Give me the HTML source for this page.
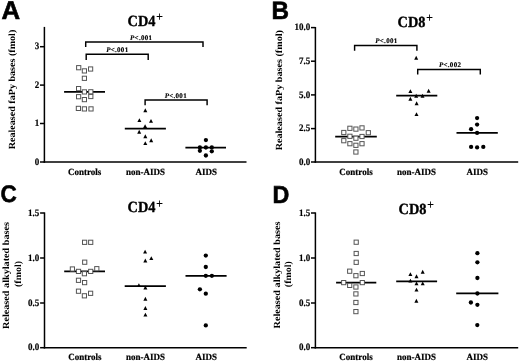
<!DOCTYPE html>
<html><head><meta charset="utf-8"><style>
html,body{margin:0;padding:0;background:#fff;}
body{width:520px;height:363px;overflow:hidden;font-family:"Liberation Serif",serif;}
svg{display:block;filter:grayscale(1);} text{text-rendering:geometricPrecision;}
</style></head><body>
<svg width="520" height="363" viewBox="0 0 520 363">
<rect width="520" height="363" fill="#fff"/>
<text x="0" y="0" font-family='"Liberation Sans", sans-serif' font-size="25" font-weight="bold" stroke="#000" stroke-width="0.6" stroke-linejoin="miter" transform="translate(1.6 18.6) scale(1.03 1.03)">A</text>
<text x="127.60000000000001" y="25.6" font-family='"Liberation Serif", serif' font-size="15" font-weight="bold" stroke="#000" stroke-width="0.35" transform="translate(127.60000000000001 25.6) scale(0.955 1.03) translate(-127.60000000000001 -25.6)">CD4<tspan font-size="13" dx="0.6" dy="-4.3" stroke-width="0">+</tspan></text>
<line x1="44.4" y1="26.9" x2="44.4" y2="162.75" stroke="#000" stroke-width="1.5"/>
<line x1="43.65" y1="162" x2="246.5" y2="162" stroke="#000" stroke-width="1.5"/>
<line x1="40.0" y1="46.7" x2="44.4" y2="46.7" stroke="#000" stroke-width="1.5"/>
<text x="0" y="0" font-family='"Liberation Serif", serif' font-size="9" font-weight="bold" text-anchor="end" stroke="#000" stroke-width="0.15" transform="translate(39.20 49.40) scale(1 1.1)">3</text>
<line x1="40.0" y1="85.1" x2="44.4" y2="85.1" stroke="#000" stroke-width="1.5"/>
<text x="0" y="0" font-family='"Liberation Serif", serif' font-size="9" font-weight="bold" text-anchor="end" stroke="#000" stroke-width="0.15" transform="translate(39.20 87.80) scale(1 1.1)">2</text>
<line x1="40.0" y1="123.5" x2="44.4" y2="123.5" stroke="#000" stroke-width="1.5"/>
<text x="0" y="0" font-family='"Liberation Serif", serif' font-size="9" font-weight="bold" text-anchor="end" stroke="#000" stroke-width="0.15" transform="translate(39.20 126.20) scale(1 1.1)">1</text>
<line x1="40.0" y1="162.0" x2="44.4" y2="162.0" stroke="#000" stroke-width="1.5"/>
<text x="0" y="0" font-family='"Liberation Serif", serif' font-size="9" font-weight="bold" text-anchor="end" stroke="#000" stroke-width="0.15" transform="translate(39.20 164.70) scale(1 1.1)">0</text>
<text x="0" y="0" font-family='"Liberation Serif", serif' font-size="9.4" font-weight="bold" text-anchor="middle" transform="translate(14.8 89.5) rotate(-90) scale(1.075 1)">Realeased faPy bases (fmol)</text>
<text x="0" y="0" font-family='"Liberation Serif", serif' font-size="9" font-weight="bold" text-anchor="middle" stroke="#000" stroke-width="0.2" transform="translate(84.6 174.5) scale(1.0 1.06)">Controls</text>
<text x="0" y="0" font-family='"Liberation Serif", serif' font-size="9" font-weight="bold" text-anchor="middle" stroke="#000" stroke-width="0.2" transform="translate(145.4 174.5) scale(1.0 1.06)">non-AIDS</text>
<text x="0" y="0" font-family='"Liberation Serif", serif' font-size="9" font-weight="bold" text-anchor="middle" stroke="#000" stroke-width="0.2" transform="translate(206.2 174.5) scale(1.0 1.06)">AIDS</text>
<path d="M85.7 47.00V41.95H203V47.00" fill="none" stroke="#000" stroke-width="1.45"/>
<text x="141.2" y="39.5" font-family='"Liberation Serif", serif' font-size="7" font-weight="bold" text-anchor="middle" letter-spacing="0.3" stroke="#000" stroke-width="0.15"><tspan font-style="italic">P</tspan>&lt;.001</text>
<path d="M86.2 59.90V54.25H148.2V59.90" fill="none" stroke="#000" stroke-width="1.45"/>
<text x="117.3" y="51.8" font-family='"Liberation Serif", serif' font-size="7" font-weight="bold" text-anchor="middle" letter-spacing="0.3" stroke="#000" stroke-width="0.15"><tspan font-style="italic">P</tspan>&lt;.001</text>
<path d="M145.1 105.30V99.95H207.1V105.30" fill="none" stroke="#000" stroke-width="1.45"/>
<text x="175.8" y="97.6" font-family='"Liberation Serif", serif' font-size="7" font-weight="bold" text-anchor="middle" letter-spacing="0.3" stroke="#000" stroke-width="0.15"><tspan font-style="italic">P</tspan>&lt;.001</text>
<line x1="64.1" y1="91.8" x2="105" y2="91.8" stroke="#000" stroke-width="1.7"/>
<rect x="76.60" y="65.60" width="4.2" height="4.2" fill="#fff" stroke="#555" stroke-width="1"/>
<rect x="82.30" y="68.80" width="4.2" height="4.2" fill="#fff" stroke="#555" stroke-width="1"/>
<rect x="88.50" y="66.90" width="4.2" height="4.2" fill="#fff" stroke="#555" stroke-width="1"/>
<rect x="82.30" y="76.20" width="4.2" height="4.2" fill="#fff" stroke="#555" stroke-width="1"/>
<rect x="76.50" y="86.50" width="4.2" height="4.2" fill="#fff" stroke="#555" stroke-width="1"/>
<rect x="82.30" y="89.80" width="4.2" height="4.2" fill="#fff" stroke="#555" stroke-width="1"/>
<rect x="88.70" y="89.70" width="4.2" height="4.2" fill="#fff" stroke="#555" stroke-width="1"/>
<rect x="76.50" y="94.60" width="4.2" height="4.2" fill="#fff" stroke="#555" stroke-width="1"/>
<rect x="88.70" y="94.40" width="4.2" height="4.2" fill="#fff" stroke="#555" stroke-width="1"/>
<rect x="82.30" y="97.50" width="4.2" height="4.2" fill="#fff" stroke="#555" stroke-width="1"/>
<rect x="76.30" y="106.30" width="4.2" height="4.2" fill="#fff" stroke="#555" stroke-width="1"/>
<rect x="82.30" y="106.80" width="4.2" height="4.2" fill="#fff" stroke="#555" stroke-width="1"/>
<rect x="88.90" y="106.80" width="4.2" height="4.2" fill="#fff" stroke="#555" stroke-width="1"/>
<line x1="124.8" y1="128.6" x2="165.9" y2="128.6" stroke="#000" stroke-width="1.7"/>
<path d="M145.30 108.36L147.30 112.25L143.30 112.25Z" fill="#000"/>
<path d="M139.40 118.16L141.40 122.05L137.40 122.05Z" fill="#000"/>
<path d="M151.00 118.95L153.00 122.85L149.00 122.85Z" fill="#000"/>
<path d="M145.10 124.16L147.10 128.05L143.10 128.05Z" fill="#000"/>
<path d="M139.20 129.75L141.20 133.65L137.20 133.65Z" fill="#000"/>
<path d="M145.30 134.35L147.30 138.25L143.30 138.25Z" fill="#000"/>
<path d="M151.20 138.25L153.20 142.15L149.20 142.15Z" fill="#000"/>
<path d="M145.30 141.16L147.30 145.05L143.30 145.05Z" fill="#000"/>
<line x1="185.4" y1="147.7" x2="226" y2="147.7" stroke="#000" stroke-width="1.7"/>
<circle cx="205.90" cy="140.10" r="2.15" fill="#000"/>
<circle cx="199.90" cy="147.50" r="2.15" fill="#000"/>
<circle cx="205.90" cy="147.50" r="2.15" fill="#000"/>
<circle cx="211.80" cy="147.40" r="2.15" fill="#000"/>
<circle cx="199.90" cy="150.80" r="2.15" fill="#000"/>
<circle cx="211.80" cy="151.30" r="2.15" fill="#000"/>
<circle cx="205.90" cy="155.50" r="2.15" fill="#000"/>
<text x="0" y="0" font-family='"Liberation Sans", sans-serif' font-size="25" font-weight="bold" stroke="#000" stroke-width="0.6" stroke-linejoin="miter" transform="translate(271.6 18.9) scale(0.97 1.0)">B</text>
<text x="397.6" y="26.7" font-family='"Liberation Serif", serif' font-size="15" font-weight="bold" stroke="#000" stroke-width="0.35" transform="translate(397.6 26.7) scale(0.955 1.03) translate(-397.6 -26.7)">CD8<tspan font-size="13" dx="0.6" dy="-4.3" stroke-width="0">+</tspan></text>
<line x1="315.4" y1="27.0" x2="315.4" y2="162.75" stroke="#000" stroke-width="1.5"/>
<line x1="314.65" y1="162" x2="518.2" y2="162" stroke="#000" stroke-width="1.5"/>
<line x1="311.0" y1="27.6" x2="315.4" y2="27.6" stroke="#000" stroke-width="1.5"/>
<text x="0" y="0" font-family='"Liberation Serif", serif' font-size="9" font-weight="bold" text-anchor="end" stroke="#000" stroke-width="0.15" transform="translate(310.20 30.30) scale(1 1.1)">10.0</text>
<line x1="311.0" y1="61.2" x2="315.4" y2="61.2" stroke="#000" stroke-width="1.5"/>
<text x="0" y="0" font-family='"Liberation Serif", serif' font-size="9" font-weight="bold" text-anchor="end" stroke="#000" stroke-width="0.15" transform="translate(310.20 63.90) scale(1 1.1)">7.5</text>
<line x1="311.0" y1="94.9" x2="315.4" y2="94.9" stroke="#000" stroke-width="1.5"/>
<text x="0" y="0" font-family='"Liberation Serif", serif' font-size="9" font-weight="bold" text-anchor="end" stroke="#000" stroke-width="0.15" transform="translate(310.20 97.60) scale(1 1.1)">5.0</text>
<line x1="311.0" y1="128.6" x2="315.4" y2="128.6" stroke="#000" stroke-width="1.5"/>
<text x="0" y="0" font-family='"Liberation Serif", serif' font-size="9" font-weight="bold" text-anchor="end" stroke="#000" stroke-width="0.15" transform="translate(310.20 131.30) scale(1 1.1)">2.5</text>
<line x1="311.0" y1="162.0" x2="315.4" y2="162.0" stroke="#000" stroke-width="1.5"/>
<text x="0" y="0" font-family='"Liberation Serif", serif' font-size="9" font-weight="bold" text-anchor="end" stroke="#000" stroke-width="0.15" transform="translate(310.20 164.70) scale(1 1.1)">0.0</text>
<text x="0" y="0" font-family='"Liberation Serif", serif' font-size="9.4" font-weight="bold" text-anchor="middle" transform="translate(282.0 90.2) rotate(-90) scale(1.082 1)">Realeased faPy bases (fmol)</text>
<text x="0" y="0" font-family='"Liberation Serif", serif' font-size="9" font-weight="bold" text-anchor="middle" stroke="#000" stroke-width="0.2" transform="translate(356.0 174.5) scale(1.0 1.06)">Controls</text>
<text x="0" y="0" font-family='"Liberation Serif", serif' font-size="9" font-weight="bold" text-anchor="middle" stroke="#000" stroke-width="0.2" transform="translate(416.5 174.5) scale(1.0 1.06)">non-AIDS</text>
<text x="0" y="0" font-family='"Liberation Serif", serif' font-size="9" font-weight="bold" text-anchor="middle" stroke="#000" stroke-width="0.2" transform="translate(477.2 174.5) scale(1.0 1.06)">AIDS</text>
<path d="M354.6 50.70V45.55H416.9V50.70" fill="none" stroke="#000" stroke-width="1.45"/>
<text x="386.4" y="43.1" font-family='"Liberation Serif", serif' font-size="7" font-weight="bold" text-anchor="middle" letter-spacing="0.3" stroke="#000" stroke-width="0.15"><tspan font-style="italic">P</tspan>&lt;.001</text>
<path d="M417.7 74.60V69.55H480.3V74.60" fill="none" stroke="#000" stroke-width="1.45"/>
<text x="450.1" y="67.0" font-family='"Liberation Serif", serif' font-size="7" font-weight="bold" text-anchor="middle" letter-spacing="0.3" stroke="#000" stroke-width="0.15"><tspan font-style="italic">P</tspan>&lt;.002</text>
<line x1="335.2" y1="136.7" x2="376.8" y2="136.7" stroke="#000" stroke-width="1.7"/>
<rect x="347.80" y="126.20" width="4.2" height="4.2" fill="#fff" stroke="#555" stroke-width="1"/>
<rect x="353.80" y="127.00" width="4.2" height="4.2" fill="#fff" stroke="#555" stroke-width="1"/>
<rect x="359.90" y="125.80" width="4.2" height="4.2" fill="#fff" stroke="#555" stroke-width="1"/>
<rect x="341.70" y="130.40" width="4.2" height="4.2" fill="#fff" stroke="#555" stroke-width="1"/>
<rect x="366.20" y="130.60" width="4.2" height="4.2" fill="#fff" stroke="#555" stroke-width="1"/>
<rect x="347.80" y="134.20" width="4.2" height="4.2" fill="#fff" stroke="#555" stroke-width="1"/>
<rect x="353.80" y="136.10" width="4.2" height="4.2" fill="#fff" stroke="#555" stroke-width="1"/>
<rect x="359.90" y="134.40" width="4.2" height="4.2" fill="#fff" stroke="#555" stroke-width="1"/>
<rect x="341.70" y="138.60" width="4.2" height="4.2" fill="#fff" stroke="#555" stroke-width="1"/>
<rect x="347.80" y="141.60" width="4.2" height="4.2" fill="#fff" stroke="#555" stroke-width="1"/>
<rect x="353.80" y="143.20" width="4.2" height="4.2" fill="#fff" stroke="#555" stroke-width="1"/>
<rect x="359.90" y="141.60" width="4.2" height="4.2" fill="#fff" stroke="#555" stroke-width="1"/>
<rect x="353.80" y="149.90" width="4.2" height="4.2" fill="#fff" stroke="#555" stroke-width="1"/>
<line x1="396.2" y1="95.6" x2="437.3" y2="95.6" stroke="#000" stroke-width="1.7"/>
<path d="M416.20 55.76L418.20 59.65L414.20 59.65Z" fill="#000"/>
<path d="M410.40 89.16L412.40 93.05L408.40 93.05Z" fill="#000"/>
<path d="M428.60 88.86L430.60 92.75L426.60 92.75Z" fill="#000"/>
<path d="M416.20 93.75L418.20 97.65L414.20 97.65Z" fill="#000"/>
<path d="M422.50 93.75L424.50 97.65L420.50 97.65Z" fill="#000"/>
<path d="M410.40 96.75L412.40 100.65L408.40 100.65Z" fill="#000"/>
<path d="M416.60 101.25L418.60 105.15L414.60 105.15Z" fill="#000"/>
<path d="M416.50 112.16L418.50 116.05L414.50 116.05Z" fill="#000"/>
<line x1="456.5" y1="132.9" x2="497.8" y2="132.9" stroke="#000" stroke-width="1.7"/>
<circle cx="477.10" cy="118.10" r="2.15" fill="#000"/>
<circle cx="477.10" cy="124.60" r="2.15" fill="#000"/>
<circle cx="471.10" cy="129.20" r="2.15" fill="#000"/>
<circle cx="477.10" cy="132.90" r="2.15" fill="#000"/>
<circle cx="471.10" cy="146.90" r="2.15" fill="#000"/>
<circle cx="477.10" cy="147.40" r="2.15" fill="#000"/>
<circle cx="483.30" cy="146.90" r="2.15" fill="#000"/>
<text x="0" y="0" font-family='"Liberation Sans", sans-serif' font-size="25" font-weight="bold" stroke="#000" stroke-width="0.6" stroke-linejoin="miter" transform="translate(0.5 202.2) scale(0.9 0.96)">C</text>
<text x="127.60000000000001" y="212.2" font-family='"Liberation Serif", serif' font-size="15" font-weight="bold" stroke="#000" stroke-width="0.35" transform="translate(127.60000000000001 212.2) scale(0.955 1.03) translate(-127.60000000000001 -212.2)">CD4<tspan font-size="13" dx="0.6" dy="-4.3" stroke-width="0">+</tspan></text>
<line x1="44.5" y1="212.4" x2="44.5" y2="348.45" stroke="#000" stroke-width="1.5"/>
<line x1="43.75" y1="347.7" x2="246.7" y2="347.7" stroke="#000" stroke-width="1.5"/>
<line x1="40.1" y1="213.0" x2="44.5" y2="213.0" stroke="#000" stroke-width="1.5"/>
<text x="0" y="0" font-family='"Liberation Serif", serif' font-size="9" font-weight="bold" text-anchor="end" stroke="#000" stroke-width="0.15" transform="translate(39.30 215.70) scale(1 1.1)">1.5</text>
<line x1="40.1" y1="258.0" x2="44.5" y2="258.0" stroke="#000" stroke-width="1.5"/>
<text x="0" y="0" font-family='"Liberation Serif", serif' font-size="9" font-weight="bold" text-anchor="end" stroke="#000" stroke-width="0.15" transform="translate(39.30 260.70) scale(1 1.1)">1.0</text>
<line x1="40.1" y1="303.0" x2="44.5" y2="303.0" stroke="#000" stroke-width="1.5"/>
<text x="0" y="0" font-family='"Liberation Serif", serif' font-size="9" font-weight="bold" text-anchor="end" stroke="#000" stroke-width="0.15" transform="translate(39.30 305.70) scale(1 1.1)">0.5</text>
<line x1="40.1" y1="347.7" x2="44.5" y2="347.7" stroke="#000" stroke-width="1.5"/>
<text x="0" y="0" font-family='"Liberation Serif", serif' font-size="9" font-weight="bold" text-anchor="end" stroke="#000" stroke-width="0.15" transform="translate(39.30 350.40) scale(1 1.1)">0.0</text>
<text x="0" y="0" font-family='"Liberation Serif", serif' font-size="9.4" font-weight="bold" text-anchor="middle" transform="translate(9.0 275.5) rotate(-90) scale(1.086 1)">Released alkylated bases</text>
<text x="0" y="0" font-family='"Liberation Serif", serif' font-size="9.4" font-weight="bold" text-anchor="middle" transform="translate(21.0 274.0) rotate(-90) scale(1.06 1)">(fmol)</text>
<text x="0" y="0" font-family='"Liberation Serif", serif' font-size="9" font-weight="bold" text-anchor="middle" stroke="#000" stroke-width="0.2" transform="translate(84.8 360.3) scale(1.0 1.06)">Controls</text>
<text x="0" y="0" font-family='"Liberation Serif", serif' font-size="9" font-weight="bold" text-anchor="middle" stroke="#000" stroke-width="0.2" transform="translate(145.4 360.3) scale(1.0 1.06)">non-AIDS</text>
<text x="0" y="0" font-family='"Liberation Serif", serif' font-size="9" font-weight="bold" text-anchor="middle" stroke="#000" stroke-width="0.2" transform="translate(206.2 360.3) scale(1.0 1.06)">AIDS</text>
<line x1="64.2" y1="271.4" x2="105" y2="271.4" stroke="#000" stroke-width="1.7"/>
<rect x="82.50" y="240.20" width="4.2" height="4.2" fill="#fff" stroke="#555" stroke-width="1"/>
<rect x="88.60" y="240.20" width="4.2" height="4.2" fill="#fff" stroke="#555" stroke-width="1"/>
<rect x="82.60" y="260.10" width="4.2" height="4.2" fill="#fff" stroke="#555" stroke-width="1"/>
<rect x="70.30" y="266.90" width="4.2" height="4.2" fill="#fff" stroke="#555" stroke-width="1"/>
<rect x="76.40" y="269.30" width="4.2" height="4.2" fill="#fff" stroke="#555" stroke-width="1"/>
<rect x="82.30" y="271.60" width="4.2" height="4.2" fill="#fff" stroke="#555" stroke-width="1"/>
<rect x="88.60" y="269.30" width="4.2" height="4.2" fill="#fff" stroke="#555" stroke-width="1"/>
<rect x="94.70" y="266.60" width="4.2" height="4.2" fill="#fff" stroke="#555" stroke-width="1"/>
<rect x="76.40" y="278.20" width="4.2" height="4.2" fill="#fff" stroke="#555" stroke-width="1"/>
<rect x="82.50" y="280.50" width="4.2" height="4.2" fill="#fff" stroke="#555" stroke-width="1"/>
<rect x="76.40" y="289.10" width="4.2" height="4.2" fill="#fff" stroke="#555" stroke-width="1"/>
<rect x="82.30" y="293.70" width="4.2" height="4.2" fill="#fff" stroke="#555" stroke-width="1"/>
<rect x="88.50" y="291.20" width="4.2" height="4.2" fill="#fff" stroke="#555" stroke-width="1"/>
<line x1="124.7" y1="286.2" x2="165.9" y2="286.2" stroke="#000" stroke-width="1.7"/>
<path d="M145.10 249.66L147.10 253.55L143.10 253.55Z" fill="#000"/>
<path d="M151.30 256.15L153.30 260.05L149.30 260.05Z" fill="#000"/>
<path d="M145.30 258.55L147.30 262.45L143.30 262.45Z" fill="#000"/>
<path d="M138.90 283.15L140.90 287.05L136.90 287.05Z" fill="#000"/>
<path d="M145.40 285.55L147.40 289.45L143.40 289.45Z" fill="#000"/>
<path d="M145.40 296.75L147.40 300.65L143.40 300.65Z" fill="#000"/>
<path d="M145.40 306.05L147.40 309.95L143.40 309.95Z" fill="#000"/>
<path d="M145.40 312.65L147.40 316.55L143.40 316.55Z" fill="#000"/>
<line x1="185.5" y1="275.8" x2="226.6" y2="275.8" stroke="#000" stroke-width="1.7"/>
<circle cx="205.80" cy="255.60" r="2.15" fill="#000"/>
<circle cx="205.80" cy="267.00" r="2.15" fill="#000"/>
<circle cx="205.80" cy="275.80" r="2.15" fill="#000"/>
<circle cx="211.90" cy="275.80" r="2.15" fill="#000"/>
<circle cx="199.90" cy="289.30" r="2.15" fill="#000"/>
<circle cx="205.80" cy="293.70" r="2.15" fill="#000"/>
<circle cx="205.80" cy="325.40" r="2.15" fill="#000"/>
<text x="0" y="0" font-family='"Liberation Sans", sans-serif' font-size="25" font-weight="bold" stroke="#000" stroke-width="0.6" stroke-linejoin="miter" transform="translate(272.4 203.1) scale(0.93 0.98)">D</text>
<text x="398.6" y="213.8" font-family='"Liberation Serif", serif' font-size="15" font-weight="bold" stroke="#000" stroke-width="0.35" transform="translate(398.6 213.8) scale(0.955 1.03) translate(-398.6 -213.8)">CD8<tspan font-size="13" dx="0.6" dy="-4.3" stroke-width="0">+</tspan></text>
<line x1="315.4" y1="212.4" x2="315.4" y2="348.45" stroke="#000" stroke-width="1.5"/>
<line x1="314.65" y1="347.7" x2="518.2" y2="347.7" stroke="#000" stroke-width="1.5"/>
<line x1="311.0" y1="213.0" x2="315.4" y2="213.0" stroke="#000" stroke-width="1.5"/>
<text x="0" y="0" font-family='"Liberation Serif", serif' font-size="9" font-weight="bold" text-anchor="end" stroke="#000" stroke-width="0.15" transform="translate(310.20 215.70) scale(1 1.1)">1.5</text>
<line x1="311.0" y1="258.0" x2="315.4" y2="258.0" stroke="#000" stroke-width="1.5"/>
<text x="0" y="0" font-family='"Liberation Serif", serif' font-size="9" font-weight="bold" text-anchor="end" stroke="#000" stroke-width="0.15" transform="translate(310.20 260.70) scale(1 1.1)">1.0</text>
<line x1="311.0" y1="303.0" x2="315.4" y2="303.0" stroke="#000" stroke-width="1.5"/>
<text x="0" y="0" font-family='"Liberation Serif", serif' font-size="9" font-weight="bold" text-anchor="end" stroke="#000" stroke-width="0.15" transform="translate(310.20 305.70) scale(1 1.1)">0.5</text>
<line x1="311.0" y1="347.7" x2="315.4" y2="347.7" stroke="#000" stroke-width="1.5"/>
<text x="0" y="0" font-family='"Liberation Serif", serif' font-size="9" font-weight="bold" text-anchor="end" stroke="#000" stroke-width="0.15" transform="translate(310.20 350.40) scale(1 1.1)">0.0</text>
<text x="0" y="0" font-family='"Liberation Serif", serif' font-size="9.4" font-weight="bold" text-anchor="middle" transform="translate(279.9 275.0) rotate(-90) scale(1.086 1)">Released alkylated bases</text>
<text x="0" y="0" font-family='"Liberation Serif", serif' font-size="9.4" font-weight="bold" text-anchor="middle" transform="translate(291.4 274.2) rotate(-90) scale(1.06 1)">(fmol)</text>
<text x="0" y="0" font-family='"Liberation Serif", serif' font-size="9" font-weight="bold" text-anchor="middle" stroke="#000" stroke-width="0.2" transform="translate(356.0 360.3) scale(1.0 1.06)">Controls</text>
<text x="0" y="0" font-family='"Liberation Serif", serif' font-size="9" font-weight="bold" text-anchor="middle" stroke="#000" stroke-width="0.2" transform="translate(416.5 360.3) scale(1.0 1.06)">non-AIDS</text>
<text x="0" y="0" font-family='"Liberation Serif", serif' font-size="9" font-weight="bold" text-anchor="middle" stroke="#000" stroke-width="0.2" transform="translate(477.2 360.3) scale(1.0 1.06)">AIDS</text>
<line x1="336.1" y1="282.6" x2="376.3" y2="282.6" stroke="#000" stroke-width="1.7"/>
<rect x="354.10" y="240.10" width="4.2" height="4.2" fill="#fff" stroke="#555" stroke-width="1"/>
<rect x="354.10" y="251.40" width="4.2" height="4.2" fill="#fff" stroke="#555" stroke-width="1"/>
<rect x="354.10" y="260.20" width="4.2" height="4.2" fill="#fff" stroke="#555" stroke-width="1"/>
<rect x="347.60" y="269.10" width="4.2" height="4.2" fill="#fff" stroke="#555" stroke-width="1"/>
<rect x="360.20" y="271.40" width="4.2" height="4.2" fill="#fff" stroke="#555" stroke-width="1"/>
<rect x="353.80" y="273.60" width="4.2" height="4.2" fill="#fff" stroke="#555" stroke-width="1"/>
<rect x="341.60" y="280.50" width="4.2" height="4.2" fill="#fff" stroke="#555" stroke-width="1"/>
<rect x="360.20" y="280.50" width="4.2" height="4.2" fill="#fff" stroke="#555" stroke-width="1"/>
<rect x="347.60" y="283.30" width="4.2" height="4.2" fill="#fff" stroke="#555" stroke-width="1"/>
<rect x="353.80" y="284.90" width="4.2" height="4.2" fill="#fff" stroke="#555" stroke-width="1"/>
<rect x="353.80" y="291.80" width="4.2" height="4.2" fill="#fff" stroke="#555" stroke-width="1"/>
<rect x="353.80" y="300.40" width="4.2" height="4.2" fill="#fff" stroke="#555" stroke-width="1"/>
<rect x="353.80" y="309.50" width="4.2" height="4.2" fill="#fff" stroke="#555" stroke-width="1"/>
<line x1="396.2" y1="281.4" x2="437.1" y2="281.4" stroke="#000" stroke-width="1.7"/>
<path d="M410.40 272.15L412.40 276.05L408.40 276.05Z" fill="#000"/>
<path d="M422.70 269.85L424.70 273.75L420.70 273.75Z" fill="#000"/>
<path d="M416.50 274.35L418.50 278.25L414.50 278.25Z" fill="#000"/>
<path d="M410.40 278.65L412.40 282.55L408.40 282.55Z" fill="#000"/>
<path d="M416.50 281.45L418.50 285.35L414.50 285.35Z" fill="#000"/>
<path d="M422.70 281.45L424.70 285.35L420.70 285.35Z" fill="#000"/>
<path d="M416.50 287.65L418.50 291.55L414.50 291.55Z" fill="#000"/>
<path d="M416.40 298.75L418.40 302.65L414.40 302.65Z" fill="#000"/>
<line x1="456.2" y1="293.3" x2="498.4" y2="293.3" stroke="#000" stroke-width="1.7"/>
<circle cx="477.40" cy="253.20" r="2.15" fill="#000"/>
<circle cx="477.40" cy="262.30" r="2.15" fill="#000"/>
<circle cx="477.40" cy="278.00" r="2.15" fill="#000"/>
<circle cx="477.40" cy="293.50" r="2.15" fill="#000"/>
<circle cx="470.90" cy="302.50" r="2.15" fill="#000"/>
<circle cx="477.40" cy="304.80" r="2.15" fill="#000"/>
<circle cx="477.30" cy="325.10" r="2.15" fill="#000"/>
</svg>
</body></html>
